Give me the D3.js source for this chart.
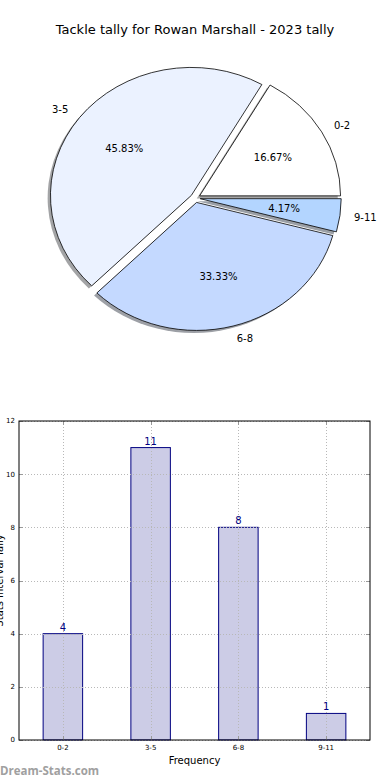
<!DOCTYPE html>
<html>
<head>
<meta charset="utf-8">
<script src="https://cdn.jsdelivr.net/npm/d3@7"></script>
<style>
  body { margin: 0; background: #fff; }
  svg { display: block; font-family: "DejaVu Sans", sans-serif; }
</style>
</head>
<body>
<script>
// Width and height
var w = 390;
var h = 780;

// Data
var categories = ["0-2", "3-5", "6-8", "9-11"];
var tally = [4, 11, 8, 1];
var yTicks = [0, 2, 4, 6, 8, 10, 12];

var pieColors = ["#ffffff", "#ebf2ff", "#c4d9ff", "#b3d5ff"];

var svg = d3.select("body")
    .append("svg")
    .attr("width", w)
    .attr("height", h);

// Title
svg.append("text")
    .attr("x", 195)
    .attr("y", 34)
    .attr("text-anchor", "middle")
    .attr("font-size", "13px")
    .text("Tackle tally for Rowan Marshall - 2023 tally");

// ---- Pie (matplotlib style: ccw from east, non-equal aspect) ----
var cx = 195.3, cy = 198.1;
var rx = 141, ry = 128;
var explode = 0.035;
var total = d3.sum(tally);

var pie = d3.pie()
    .sort(null)
    .startAngle(Math.PI / 2)
    .endAngle(Math.PI / 2 - 2 * Math.PI);

var arcs = pie(tally);
var arc = d3.arc().innerRadius(0).outerRadius(1);

var pieG = svg.append("g");

arcs.forEach(function(d, i) {
    var a = (d.startAngle + d.endAngle) / 2;
    var ox = cx + explode * rx * Math.sin(a);
    var oy = cy - explode * ry * Math.cos(a);
    var c = d3.rgb(pieColors[i]);

    // shadow
    pieG.append("path")
        .attr("d", arc(d))
        .attr("transform", "translate(" + (ox - 0.02 * rx) + "," + (oy + 0.02 * ry) + ") scale(" + rx + "," + ry + ")")
        .attr("fill", d3.rgb(c.r * 0.3, c.g * 0.3, c.b * 0.3))
        .attr("fill-opacity", 0.5);

    // wedge
    pieG.append("path")
        .attr("d", arc(d))
        .attr("transform", "translate(" + ox + "," + oy + ") scale(" + rx + "," + ry + ")")
        .attr("fill", pieColors[i])
        .attr("stroke", "#000")
        .attr("stroke-width", 0.8)
        .attr("vector-effect", "non-scaling-stroke");

    var lx = ox + 1.1 * rx * Math.sin(a);
    var ly = oy - 1.1 * ry * Math.cos(a);
    pieG.append("text")
        .attr("x", lx)
        .attr("y", ly)
        .attr("dy", "0.35em")
        .attr("text-anchor", lx > ox ? "start" : "end")
        .attr("font-size", "10px")
        .text(categories[i]);

    pieG.append("text")
        .attr("x", ox + 0.6 * rx * Math.sin(a))
        .attr("y", oy - 0.6 * ry * Math.cos(a))
        .attr("dy", "0.35em")
        .attr("text-anchor", "middle")
        .attr("font-size", "10px")
        .text((d.value / total * 100).toFixed(2) + "%");
});

// ---- Bar chart ----
var plotL = 19, plotR = 370, plotT = 421, plotB = 740;

var xScale = d3.scaleLinear()
    .domain([-0.5, categories.length - 0.5])
    .range([plotL, plotR]);

var yScale = d3.scaleLinear()
    .domain([0, 12])
    .range([plotB, plotT]);

var barW = 0.45;

var bars = svg.append("g");

bars.selectAll("rect")
    .data(tally)
    .enter()
    .append("rect")
    .attr("x", (d, i) => xScale(i - barW / 2))
    .attr("y", d => yScale(d))
    .attr("width", xScale(barW) - xScale(0))
    .attr("height", d => yScale(0) - yScale(d))
    .attr("fill", "#ccccE6")
    .attr("stroke", "#000080")
    .attr("stroke-width", 1);

// grid
var grid = svg.append("g")
    .attr("stroke", "#b8b8b8")
    .attr("stroke-width", 1)
    .attr("stroke-dasharray", "1,2");

grid.selectAll("line.h")
    .data(yTicks)
    .enter()
    .append("line")
    .attr("x1", plotL)
    .attr("x2", plotR)
    .attr("y1", d => Math.round(yScale(d)) + 0.5)
    .attr("y2", d => Math.round(yScale(d)) + 0.5);

grid.selectAll("line.v")
    .data(categories)
    .enter()
    .append("line")
    .attr("x1", (d, i) => Math.round(xScale(i)) + 0.5)
    .attr("x2", (d, i) => Math.round(xScale(i)) + 0.5)
    .attr("y1", plotT)
    .attr("y2", plotB);

// ticks inside
var ticks = svg.append("g").attr("stroke", "#999").attr("stroke-width", 1);
yTicks.forEach(function(t) {
    var y = Math.round(yScale(t)) + 0.5;
    ticks.append("line").attr("x1", plotL).attr("x2", plotL + 4).attr("y1", y).attr("y2", y);
    ticks.append("line").attr("x1", plotR - 4).attr("x2", plotR).attr("y1", y).attr("y2", y);
});
categories.forEach(function(c, i) {
    var x = Math.round(xScale(i)) + 0.5;
    ticks.append("line").attr("x1", x).attr("x2", x).attr("y1", plotB).attr("y2", plotB - 4);
    ticks.append("line").attr("x1", x).attr("x2", x).attr("y1", plotT).attr("y2", plotT + 4);
});

// frame
svg.append("rect")
    .attr("x", plotL)
    .attr("y", plotT)
    .attr("width", plotR - plotL)
    .attr("height", plotB - plotT)
    .attr("fill", "none")
    .attr("stroke", "#000")
    .attr("stroke-width", 1);

// tick labels
svg.append("g").selectAll("text")
    .data(yTicks)
    .enter()
    .append("text")
    .attr("x", plotL - 4)
    .attr("y", d => yScale(d))
    .attr("dy", "0.35em")
    .attr("text-anchor", "end")
    .attr("font-size", "7px")
    .text(d => d);

svg.append("g").selectAll("text")
    .data(categories)
    .enter()
    .append("text")
    .attr("x", (d, i) => xScale(i))
    .attr("y", plotB + 10)
    .attr("text-anchor", "middle")
    .attr("font-size", "7px")
    .text(d => d);

// value labels
svg.append("g").selectAll("text")
    .data(tally)
    .enter()
    .append("text")
    .attr("x", (d, i) => xScale(i))
    .attr("y", d => yScale(d) - 3)
    .attr("text-anchor", "middle")
    .attr("font-size", "10px")
    .attr("fill", "#000080")
    .text(d => d);

// axis labels
svg.append("text")
    .attr("x", (plotL + plotR) / 2)
    .attr("y", 764)
    .attr("text-anchor", "middle")
    .attr("font-size", "10px")
    .text("Frequency");

svg.append("text")
    .attr("transform", "translate(3," + ((plotT + plotB) / 2) + ") rotate(-90)")
    .attr("text-anchor", "middle")
    .attr("font-size", "10px")
    .text("Stats Interval Tally");

// watermark
svg.append("text")
    .attr("x", 0)
    .attr("y", 775)
    .attr("font-family", "'Open Sans', 'DejaVu Sans', sans-serif")
    .attr("font-size", "11.5px")
    .attr("font-weight", "bold")
    .attr("fill", "#a0a0a0")
    .text("Dream-Stats.com");
</script>
</body>
</html>
